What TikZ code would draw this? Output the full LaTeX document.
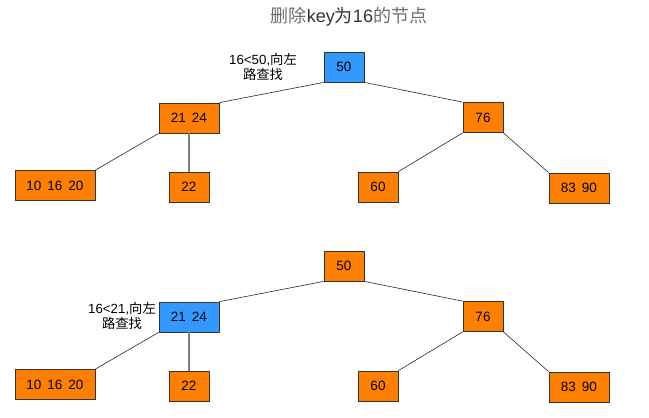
\documentclass[tikz,border=0pt]{standalone}
\usepackage{fontspec}
\setmainfont{Liberation Sans}
\newfontfamily\cjk{Noto Sans CJK SC}
\usetikzlibrary{positioning}
\definecolor{keyorange}{RGB}{255,128,0}
\definecolor{hitblue}{RGB}{51,153,255}
\definecolor{titlegray}{RGB}{110,110,110}
\tikzset{
  key/.style={rectangle, draw=black!80, fill=keyorange, line width=0.8pt,
              minimum width=40pt, minimum height=30pt, inner sep=0pt,
              font=\fontsize{13.5}{15}\selectfont},
  hit/.style={key, fill=hitblue},
  wide/.style={minimum width=60pt},
  wider/.style={minimum width=80pt},
  edge/.style={black!85, line width=0.6pt},
  stem/.style={gray, line width=1.3pt},
  note/.style={align=center, font=\fontsize{13.3}{14.5}\selectfont, inner sep=0pt}
}
\begin{document}
\begin{tikzpicture}[x=1pt, y=-1pt]
  \useasboundingbox (0,0) rectangle (649,418);
  \node[font=\fontsize{18}{20}\selectfont, text=titlegray] (title) at (349,17)
    {{\cjk 删除}\textcolor{black!80}{key{\cjk 为}16}{\cjk 的节点}};
  % two copies of the tree, the searched node in blue
  \foreach \t/\dy/\ra/\rb in {u/0/hit/key, l/199/key/hit} {
    \node[\ra] (n50\t) at (344,67+\dy) {50};
    \node[\rb, wide] (n2124\t) at (189,118+\dy) {21\hspace{6pt}24};
    \node[key] (n76\t) at (483,117.5+\dy) {76};
    \node[key, wider] (n101620\t) at (55,185.5+\dy) {10\hspace{6pt}16\hspace{6pt}20};
    \node[key] (n22\t) at (189,187+\dy) {22};
    \node[key] (n60\t) at (378,187+\dy) {60};
    \node[key, wide] (n8390\t) at (579,188+\dy) {83\hspace{6pt}90};
    \draw[edge] (n50\t.south west) -- (n2124\t.north east);
    \draw[edge] (n50\t.south east) -- (n76\t.north west);
    \draw[edge] (n2124\t.south west) -- (n101620\t.north east);
    \draw[stem] (n2124\t.south) -- (n22\t.north);
    \draw[edge] (n76\t.south west) -- (n60\t.north east);
    \draw[edge] (n76\t.south east) -- (n8390\t.north west);
  }
  \node[note] (lbu) at (263,67) {16<50,{\cjk 向左}\\{\cjk 路查找}};
  \node[note] (lbl) at (122,316) {16<21,{\cjk 向左}\\{\cjk 路查找}};
\end{tikzpicture}
\end{document}
